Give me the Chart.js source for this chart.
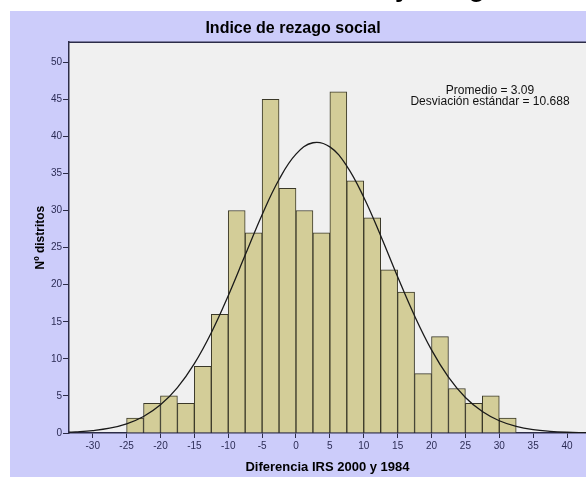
<!DOCTYPE html>
<html>
<head>
<meta charset="utf-8">
<script src="https://cdn.jsdelivr.net/npm/chart.js@4/dist/chart.umd.min.js"></script>
<style>
  html, body { margin: 0; padding: 0; background: #fff; }
</style>
</head>
<body>
<canvas id="myChart" width="586" height="477"></canvas>
<script>
// histogram bins (centre of each 2.5-wide bin) and counts
var binCenters = [-23.75, -21.25, -18.75, -16.25, -13.75, -11.25, -8.75, -6.25, -3.75, -1.25,
                  1.25, 3.75, 6.25, 8.75, 11.25, 13.75, 16.25, 18.75, 21.25, 23.75, 26.25, 28.75, 31.25];
var counts = [2, 4, 5, 4, 9, 16, 30, 27, 45, 33, 30, 27, 46, 34, 29, 22, 19, 8, 13, 6, 4, 5, 2];

// normal curve
var curveX = [-33.5, -32.5, -30, -27.5, -25, -22.5, -20, -17.5, -15, -12.5, -10, -7.5, -5, -2.5, 0,
              2.5, 5, 7.5, 10, 12.5, 15, 17.5, 20, 22.5, 25, 27.5, 30, 32.5, 35, 37.5, 40, 42.8];
var curveY = [0.11, 0.15, 0.33, 0.65, 1.24, 2.23, 3.8, 6.13, 9.36, 13.53, 18.52, 23.99, 29.44, 34.18, 37.6,
              39.14, 38.58, 36.0, 31.8, 26.61, 21.07, 15.8, 11.21, 7.54, 4.79, 2.89, 1.65, 0.89, 0.45, 0.22, 0.1, 0.04];

var xTicks = [-30, -25, -20, -15, -10, -5, 0, 5, 10, 15, 20, 25, 30, 35, 40];
var yTicks = [0, 5, 10, 15, 20, 25, 30, 35, 40, 45, 50];

var meanVal = '3.09';
var sdVal = '10.688';

var axisColor = '#2c2c48';
var tickColor = '#2c2c55';
var fontFam = 'Arial, "Liberation Sans", sans-serif';

const backdrop = {
  id: 'backdrop',
  beforeDraw(chart) {
    const ctx = chart.ctx;
    const a = chart.chartArea;
    ctx.save();
    ctx.fillStyle = '#ffffff';
    ctx.fillRect(0, 0, chart.width, chart.height);
    ctx.fillStyle = '#ccccfa';
    ctx.fillRect(10, 11, chart.width - 10, chart.height - 11);
    ctx.fillStyle = '#f0f0f0';
    ctx.fillRect(a.left, a.top, a.right - a.left, a.bottom - a.top);
    ctx.restore();
  },
  afterDraw(chart) {
    const ctx = chart.ctx;
    const a = chart.chartArea;
    ctx.save();
    // frame top line
    ctx.strokeStyle = axisColor;
    ctx.lineWidth = 1.5;
    ctx.beginPath();
    ctx.moveTo(a.left, a.top);
    ctx.lineTo(a.right, a.top);
    ctx.stroke();
    // stats text
    ctx.fillStyle = '#111';
    ctx.font = '12px ' + fontFam;
    ctx.textAlign = 'center';
    ctx.textBaseline = 'middle';
    ctx.fillText('Promedio = ' + meanVal, 490, 91);
    ctx.fillText('Desviación estándar = ' + sdVal, 490, 102);
    // cut-off page heading above the panel
    ctx.fillStyle = '#000';
    ctx.font = 'bold 26px ' + fontFam;
    ctx.textAlign = 'left';
    ctx.textBaseline = 'alphabetic';
    ctx.fillText('y rezago social', 395, -3.5);
    ctx.restore();
  }
};

const myChart = new Chart('myChart', {
  type: 'bar',
  data: {
    datasets: [{
      type: 'line',
      data: curveX.map((x, i) => ({ x: x, y: curveY[i] })),
      borderColor: '#1a1a1a',
      borderWidth: 1.3,
      pointRadius: 0,
      fill: false,
      tension: 0.4,
      order: 0
    }, {
      type: 'bar',
      data: binCenters.map((x, i) => ({ x: x, y: counts[i] })),
      backgroundColor: '#d3cd98',
      borderColor: '#3a3828',
      borderWidth: 1,
      barPercentage: 1.0,
      categoryPercentage: 1.0,
      order: 1
    }]
  },
  options: {
    responsive: false,
    animation: false,
    devicePixelRatio: 1,
    layout: { padding: 0 },
    plugins: {
      legend: { display: false },
      tooltip: { enabled: false },
      title: {
        display: true,
        text: 'Indice de rezago social',
        color: '#000',
        font: { family: fontFam, size: 16, weight: 'bold', lineHeight: 1.2 },
        padding: { top: 19, bottom: 4 }
      }
    },
    scales: {
      x: {
        type: 'linear',
        offset: false,
        min: -33.5,
        max: 42.8,
        afterBuildTicks: s => { s.ticks = xTicks.map(v => ({ value: v })); },
        afterFit: s => { s.height = 44; },
        grid: { display: true, offset: false, drawOnChartArea: false, drawTicks: true, tickLength: 5, color: axisColor },
        border: { display: true, color: axisColor, width: 1.5 },
        ticks: { color: tickColor, font: { family: fontFam, size: 10 }, padding: 2, maxRotation: 0, autoSkip: false },
        title: {
          display: true,
          text: 'Diferencia IRS 2000 y 1984',
          color: '#000',
          font: { family: fontFam, size: 13, weight: 'bold', lineHeight: 1.2 },
          padding: { top: 0, bottom: 2 }
        }
      },
      y: {
        min: 0,
        max: 52.7,
        afterBuildTicks: s => { s.ticks = yTicks.map(v => ({ value: v })); },
        afterFit: s => { s.width = 69; },
        grid: { display: true, drawOnChartArea: false, drawTicks: true, tickLength: 6, color: axisColor },
        border: { display: true, color: axisColor, width: 1.5 },
        ticks: { color: tickColor, font: { family: fontFam, size: 10 }, padding: 1, autoSkip: false },
        title: {
          display: true,
          text: 'Nº distritos',
          color: '#000',
          font: { family: fontFam, size: 12, weight: 'bold', lineHeight: 1.2 },
          padding: { top: 33, bottom: 0 }
        }
      }
    }
  },
  plugins: [backdrop]
});
</script>
</body>
</html>
